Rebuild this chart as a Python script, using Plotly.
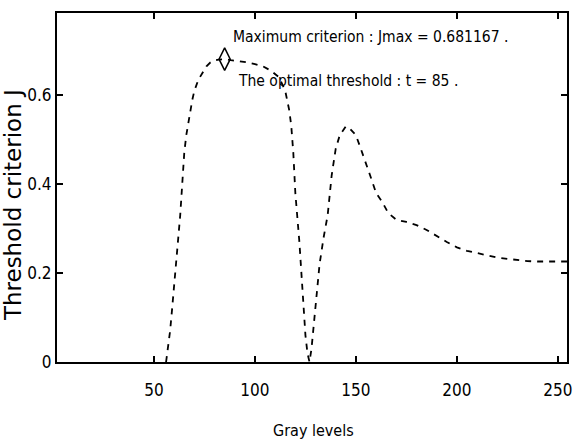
import plotly.graph_objects as go

gray = [56, 57, 58, 59, 60, 61, 62, 63, 64, 65, 66, 67, 68, 69, 70, 72, 74, 76, 78, 80, 82, 85,
        88, 92, 96, 100, 104, 108, 112, 115, 117, 118, 119, 120, 121, 122, 123, 124, 125, 126, 127,
        128, 129, 130, 131, 132, 134, 136, 138, 140, 142, 145, 147, 150, 152, 154, 157, 160, 163,
        166, 170, 175, 180, 185, 190, 195, 200, 205, 210, 215, 220, 225, 230, 235, 240, 245, 250, 256]
J = [0.0, 0.03, 0.07, 0.12, 0.17, 0.22, 0.28, 0.33, 0.40, 0.47, 0.51, 0.54, 0.56, 0.59, 0.61, 0.635,
     0.65, 0.665, 0.674, 0.678, 0.68, 0.681167,
     0.679, 0.677, 0.674, 0.67, 0.665, 0.655, 0.64, 0.61, 0.566, 0.53, 0.47, 0.38, 0.33, 0.27, 0.20,
     0.12, 0.06, 0.02, 0.0,
     0.03, 0.08, 0.137, 0.18, 0.22, 0.28, 0.33, 0.42, 0.48, 0.51, 0.53, 0.525, 0.51, 0.485, 0.46,
     0.42, 0.38, 0.36, 0.335, 0.32, 0.315, 0.308, 0.297, 0.283, 0.27, 0.258, 0.25, 0.245, 0.24,
     0.235, 0.232, 0.229, 0.227, 0.226, 0.226, 0.226, 0.226]

t_opt = [85]
J_max = [0.681167]

x_ticks = [50, 100, 150, 200, 250]
y_ticks = [0, 0.2, 0.4, 0.6]
y_tick_text = ["0", "0.2", "0.4", "0.6"]

narrow = "DejaVu Sans Condensed, Liberation Sans Narrow, Liberation Sans, sans-serif"

fig = go.Figure()
fig.add_trace(go.Scatter(x=gray, y=J, mode="lines",
                         line=dict(color="black", width=1.8, dash="6px,6px"),
                         showlegend=False))
fig.add_trace(go.Scatter(x=t_opt, y=J_max, mode="markers",
                         marker=dict(symbol="diamond-tall-open", size=16, color="black",
                                     line=dict(width=1.5, color="black")),
                         showlegend=False))

fig.add_annotation(x=t_opt[0], y=J_max[0], xref="x", yref="y",
                   text=f"Maximum criterion : Jmax = {J_max[0]} .",
                   showarrow=False, xanchor="left", yanchor="middle", xshift=6, yshift=22,
                   font=dict(family=narrow, size=15.5, color="black"))
fig.add_annotation(x=t_opt[0], y=J_max[0], xref="x", yref="y",
                   text=f"The optimal threshold : t = {t_opt[0]} .",
                   showarrow=False, xanchor="left", yanchor="middle", xshift=11, yshift=-22,
                   font=dict(family=narrow, size=15.5, color="black"))

fig.add_annotation(x=-0.086, y=0.45, xref="paper", yref="paper", text="Threshold criterion J",
                   textangle=-90, showarrow=False, xanchor="center", yanchor="middle",
                   font=dict(family="DejaVu Sans", size=23, color="black"))
fig.add_annotation(x=0.502, y=-0.195, xref="paper", yref="paper", text="Gray levels",
                   showarrow=False, xanchor="center", yanchor="middle",
                   font=dict(family=narrow, size=16, color="black"))

fig.update_xaxes(range=[2, 254.5], tickvals=x_ticks, ticks="inside", ticklen=6, tickwidth=1.5,
                 tickcolor="black", showline=True, linecolor="black", linewidth=2, mirror="ticks",
                 showgrid=False, zeroline=False, ticklabeloverflow="allow", ticklabelstandoff=12,
                 tickfont=dict(family=narrow, size=17, color="black"))
fig.update_yaxes(range=[0, 0.785], tickvals=y_ticks, ticktext=y_tick_text, ticks="inside",
                 ticklen=6, tickwidth=1.5, tickcolor="black", showline=True, linecolor="black",
                 linewidth=2, mirror="ticks", showgrid=False, zeroline=False,
                 tickfont=dict(family=narrow, size=17, color="black"))

fig.update_layout(width=574, height=444, margin=dict(l=57, r=2, t=13, b=82),
                  plot_bgcolor="white", paper_bgcolor="white")

fig.write_html("out.html")
